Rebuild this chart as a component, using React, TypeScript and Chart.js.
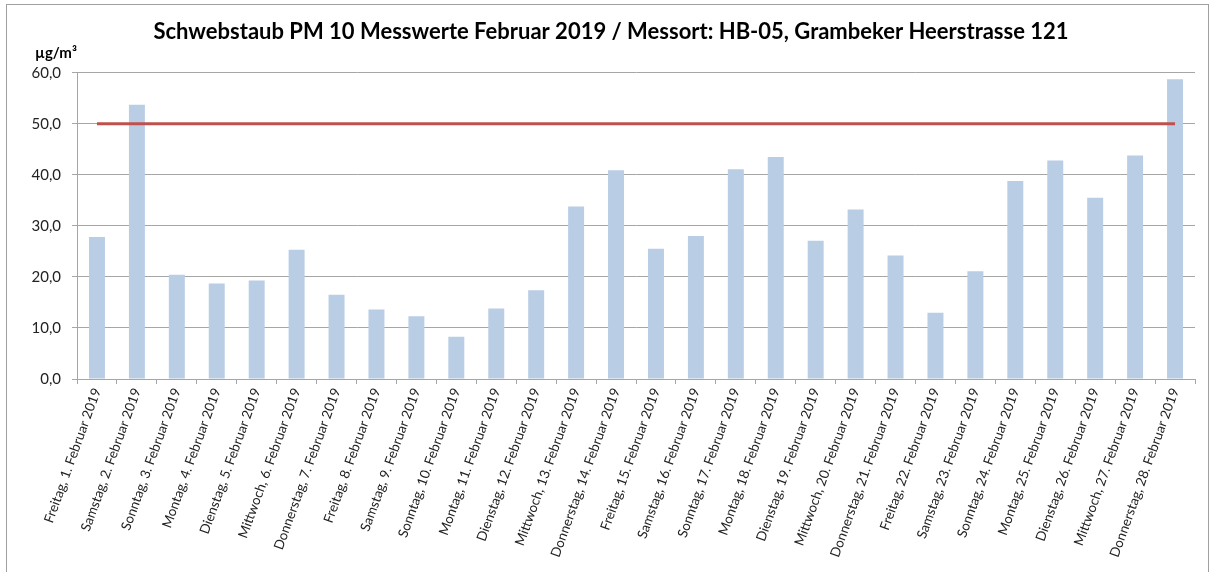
import React, { useEffect, useRef } from "react";
import { Chart, registerables } from "chart.js";

Chart.register(...registerables);

const TITLE = "Schwebstaub PM 10 Messwerte Februar 2019 / Messort: HB-05, Grambeker Heerstrasse 121";
const UNIT = "µg/m³";

const categories = [
  "Freitag, 1. Februar 2019",
  "Samstag, 2. Februar 2019",
  "Sonntag, 3. Februar 2019",
  "Montag, 4. Februar 2019",
  "Dienstag, 5. Februar 2019",
  "Mittwoch, 6. Februar 2019",
  "Donnerstag, 7. Februar 2019",
  "Freitag, 8. Februar 2019",
  "Samstag, 9. Februar 2019",
  "Sonntag, 10. Februar 2019",
  "Montag, 11. Februar 2019",
  "Dienstag, 12. Februar 2019",
  "Mittwoch, 13. Februar 2019",
  "Donnerstag, 14. Februar 2019",
  "Freitag, 15. Februar 2019",
  "Samstag, 16. Februar 2019",
  "Sonntag, 17. Februar 2019",
  "Montag, 18. Februar 2019",
  "Dienstag, 19. Februar 2019",
  "Mittwoch, 20. Februar 2019",
  "Donnerstag, 21. Februar 2019",
  "Freitag, 22. Februar 2019",
  "Samstag, 23. Februar 2019",
  "Sonntag, 24. Februar 2019",
  "Montag, 25. Februar 2019",
  "Dienstag, 26. Februar 2019",
  "Mittwoch, 27. Februar 2019",
  "Donnerstag, 28. Februar 2019",
];

const pm10Values = [
  27.8, 53.7, 20.4, 18.7, 19.3, 25.3, 16.5, 13.6, 12.3, 8.3, 13.8, 17.4, 33.8, 40.9,
  25.5, 28.0, 41.1, 43.5, 27.1, 33.2, 24.2, 13.0, 21.1, 38.8, 42.8, 35.5, 43.8, 58.7,
];

const limitValues = [
  50, 50, 50, 50, 50, 50, 50, 50, 50, 50, 50, 50, 50, 50,
  50, 50, 50, 50, 50, 50, 50, 50, 50, 50, 50, 50, 50, 50,
];

const yTicks = [0, 10, 20, 30, 40, 50, 60];

const FONT = "Lato, 'Open Sans', sans-serif";

export default function App() {
  const ref = useRef<HTMLCanvasElement | null>(null);

  useEffect(() => {
    if (!ref.current) return;
    const chart = new Chart(ref.current, {
      type: "bar",
      data: {
        labels: categories,
        datasets: [
          {
            type: "line",
            label: "Grenzwert",
            data: limitValues,
            borderColor: "#c0504d",
            borderWidth: 3,
            pointRadius: 0,
            fill: false,
            order: 0,
          },
          {
            type: "bar",
            label: "PM 10",
            data: pm10Values,
            backgroundColor: "#b9cde5",
            borderWidth: 0,
            barPercentage: 0.4,
            categoryPercentage: 1,
            order: 1,
          },
        ],
      },
      options: {
        responsive: false,
        animation: false,
        layout: { padding: { left: 27, right: 18, top: 0, bottom: 0 } },
        plugins: {
          legend: { display: false },
          tooltip: { enabled: false },
          title: {
            display: true,
            text: TITLE,
            color: "#000",
            font: { family: FONT, size: 22, weight: "bold" },
            padding: { top: 19, bottom: 27.3 },
          },
        },
        scales: {
          x: {
            offset: true,
            grid: {
              display: true,
              offset: true,
              drawOnChartArea: false,
              drawTicks: true,
              tickLength: 5,
              color: "#a6a6a6",
            },
            border: { display: true, color: "#a6a6a6", width: 1 },
            ticks: {
              autoSkip: false,
              minRotation: 70,
              maxRotation: 70,
              padding: 2,
              color: "#222",
              font: { family: FONT, size: 13.5 },
            },
            afterFit: (scale: any) => {
              scale.height = 193;
            },
          },
          y: {
            min: 0,
            max: 60,
            afterBuildTicks: (scale: any) => {
              scale.ticks = yTicks.map((v) => ({ value: v }));
            },
            grid: {
              color: "#a6a6a6",
              lineWidth: 1,
              tickLength: 5,
              drawTicks: true,
            },
            border: { display: true, color: "#a6a6a6", width: 1 },
            ticks: {
              padding: 11,
              color: "#222",
              font: { family: FONT, size: 15 },
              callback: (v: any) => Number(v).toFixed(1).replace(".", ","),
            },
            afterFit: (scale: any) => {
              scale.width = 50;
            },
          },
        },
      },
    });
    return () => chart.destroy();
  }, []);

  return (
    <div
      style={{
        position: "absolute",
        left: 0,
        top: 0,
        width: 1213,
        height: 572,
        overflow: "hidden",
        background: "#fff",
      }}
    >
      <div
        style={{
          position: "absolute",
          left: 6,
          top: 4,
          width: 1203,
          height: 600,
          border: "1px solid #a0a0a0",
          boxSizing: "border-box",
        }}
      />
      <canvas
        ref={ref}
        width={1213}
        height={572}
        style={{ position: "absolute", left: 0, top: 0, width: 1213, height: 572 }}
      />
      <div
        style={{
          position: "absolute",
          left: 35,
          top: 43,
          fontFamily: FONT,
          fontWeight: "bold",
          fontSize: 15,
          color: "#000",
        }}
      >
        {UNIT}
      </div>
    </div>
  );
}
